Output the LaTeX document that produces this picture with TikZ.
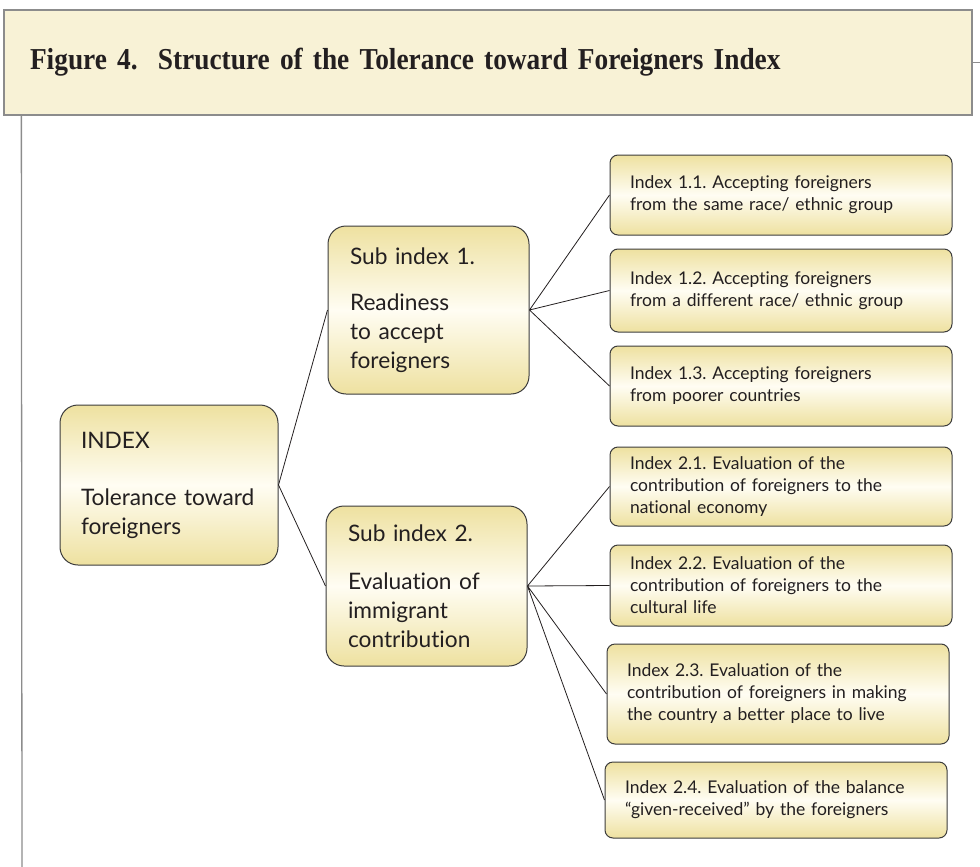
\documentclass[tikz,border=0pt]{standalone}
\usepackage{fontspec}
\setsansfont{Lato}[Ligatures={TeX,NoCommon}]
\newfontfamily\figserif[FakeStretch=0.9]{Liberation Serif}
\frenchspacing
\usetikzlibrary{positioning}
\definecolor{boxgold}{HTML}{EEE1A0}
\definecolor{boxlight}{HTML}{FFFDF3}
\definecolor{boxline}{HTML}{3C3C3C}
\definecolor{inkgray}{HTML}{231F20}
\definecolor{bannerbg}{HTML}{F8F2D6}
\definecolor{bannerline}{HTML}{8C8C8C}
\tikzset{
	ibox/.style={draw=boxline, line width=1pt, top color=boxgold, bottom color=boxgold,
		middle color=boxlight, align=left, text=inkgray},
	rootbox/.style={ibox, rounded corners=18pt, font=\sffamily\fontsize{22.7}{29}\selectfont,
		text width=176pt, inner xsep=21pt, minimum height=160pt},
	subbox/.style={ibox, rounded corners=18pt, font=\sffamily\fontsize{22.7}{29}\selectfont,
		text width=157pt, inner xsep=22pt},
	leafbox/.style={ibox, rounded corners=8pt, font=\sffamily\fontsize{17.5}{22}\selectfont,
		text width=302pt, inner xsep=20pt},
	banner/.style={draw=bannerline, line width=1.3pt, fill=bannerbg, align=left,
		minimum width=968pt, minimum height=105pt, text width=916pt, inner xsep=26pt,
		font=\figserif\bfseries\fontsize{30.4}{34}\selectfont, text=inkgray},
	link/.style={draw=inkgray, line width=0.8pt},
	frameline/.style={draw=bannerline, line width=1.3pt}
}

\begin{document}
\begin{tikzpicture}[x=1pt, y=-1pt, node distance=13pt]
	\useasboundingbox (0,0) rectangle (980,867);
	% heading band
	\node[banner] (title) at (488,62.5) {Figure 4.\ \ Structure of the Tolerance toward Foreigners Index};
	\coordinate (foot) at (22,867);
	\coordinate (edge) at (980,62.5);
	\draw[frameline] ([xshift=18pt]title.south west) -- (foot);
	\draw[frameline] (title.east) -- (edge);
	% index and sub indices
	\node[rootbox] (root) at (169,485) {INDEX\\[28pt]Tolerance toward\\foreigners};
	\node[subbox, minimum height=168pt] (sub1) at (428.5,310) {Sub index 1.\\[17pt]Readiness\\to accept\\foreigners};
	\node[subbox, minimum height=160pt] (sub2) at (426.5,586) {Sub index 2.\\[19pt]Evaluation of\\immigrant\\contribution};
	% single indices
	\node[leafbox, minimum height=80pt] (l11) at (781,195) {Index 1.1. Accepting foreigners\\from the same race/ ethnic group};
	\node[leafbox, minimum height=83pt, below=of l11] (l12) {Index 1.2. Accepting foreigners\\from a different race/ ethnic group};
	\node[leafbox, minimum height=80pt, below=of l12] (l13) {Index 1.3. Accepting foreigners\\from poorer countries};
	\node[leafbox, minimum height=79pt, below=20pt of l13] (l21) {Index 2.1. Evaluation of the\\contribution of foreigners to the\\national economy};
	\node[leafbox, minimum height=81pt, below=18pt of l21] (l22) {Index 2.2. Evaluation of the\\contribution of foreigners to the\\cultural life};
	\node[leafbox, minimum height=100pt, below=17pt of l22, xshift=-3pt] (l23) {Index 2.3. Evaluation of the\\contribution of foreigners in making\\the country a better place to live};
	\node[leafbox, minimum height=76pt, below=17pt of l23, xshift=-2pt] (l24) {Index 2.4. Evaluation of the balance\\“given-received” by the foreigners};
	\draw[link] (root.east) -- (sub1.west) (root.east) -- (sub2.west);
	\draw[link] (sub1.east) -- (l11.west) (sub1.east) -- (l12.west) (sub1.east) -- (l13.west);
	\draw[link] (sub2.east) -- (l21.west) (sub2.east) -- (l22.west) (sub2.east) -- (l23.west) (sub2.east) -- (l24.west);
\end{tikzpicture}
\end{document}
